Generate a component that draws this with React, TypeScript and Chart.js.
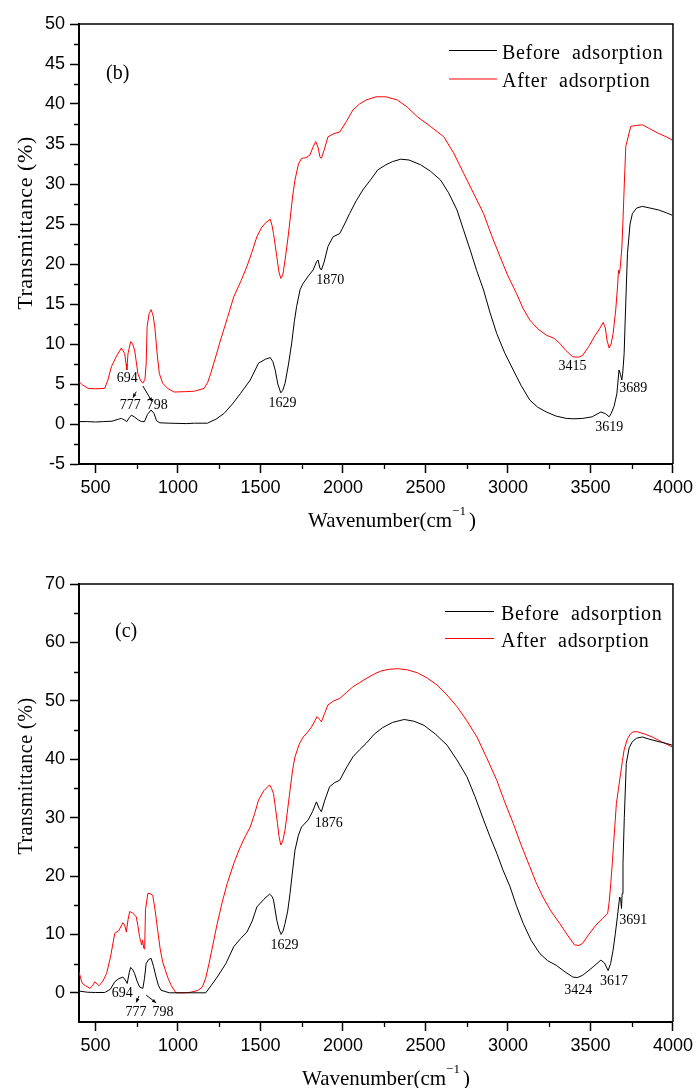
import React, { useEffect, useRef } from 'react';
import { Chart, registerables } from 'chart.js';
Chart.register(...registerables);

// ---------- shared axis data ----------
const xTicks = [500, 1000, 1500, 2000, 2500, 3000, 3500, 4000];
const xMinor = [750, 1250, 1750, 2250, 2750, 3250, 3750];
const seriesNames = ['Before adsorption', 'After adsorption'];

// ---------- panel (b) ----------
const bYTicks = [-5, 0, 5, 10, 15, 20, 25, 30, 35, 40, 45, 50];
const bYMinor = [-2.5, 2.5, 7.5, 12.5, 17.5, 22.5, 27.5, 32.5, 37.5, 42.5, 47.5];

const bBeforeX = [400, 450, 500, 550, 600, 640, 657, 675, 690, 705, 717, 735, 760, 780, 797, 815, 837, 855, 870, 890, 950, 1050, 1100, 1178, 1230, 1278, 1330, 1378, 1438, 1488, 1530, 1559, 1575, 1589, 1605, 1623, 1635, 1649, 1670, 1689, 1705, 1719, 1740, 1759, 1790, 1819, 1840, 1849, 1860, 1869, 1885, 1909, 1940, 1980, 2010, 2040, 2080, 2120, 2170, 2210, 2260, 2300, 2350, 2400, 2471, 2530, 2591, 2640, 2691, 2730, 2771, 2810, 2852, 2890, 2932, 2980, 3032, 3080, 3132, 3180, 3233, 3290, 3353, 3400, 3453, 3510, 3563, 3590, 3613, 3625, 3643, 3660, 3673, 3682, 3690, 3696, 3704, 3712, 3724, 3740, 3754, 3780, 3814, 3860, 3914, 3960, 3995];
const bBeforeY = [0.3, 0.3, 0.25, 0.3, 0.35, 0.6, 0.7, 0.5, 0.3, 0.8, 1.1, 0.9, 0.5, 0.3, 0.3, 1.2, 1.75, 1.3, 0.4, 0.15, 0.1, 0.05, 0.1, 0.1, 0.6, 1.3, 2.5, 3.8, 5.5, 7.6, 8.1, 8.3, 7.8, 6.75, 5.0, 3.9, 4.2, 5.1, 7.5, 10.1, 12.8, 14.7, 16.8, 17.6, 18.5, 19.25, 20.3, 20.5, 19.5, 19.25, 20.2, 22.2, 23.4, 23.8, 25.0, 26.3, 27.9, 29.25, 30.6, 31.75, 32.4, 32.8, 33.1, 33.0, 32.4, 31.6, 30.5, 28.9, 26.75, 24.3, 21.75, 19.2, 16.75, 14.0, 11.3, 8.9, 6.75, 4.8, 3.0, 2.1, 1.5, 1.0, 0.7, 0.65, 0.7, 0.9, 1.5, 1.3, 0.9, 1.3, 2.2, 3.8, 6.75, 6.2, 5.5, 6.5, 8.8, 14, 21.3, 25, 26.3, 27, 27.2, 27.0, 26.75, 26.4, 26.1];

const bAfterX = [400, 420, 456, 500, 556, 575, 597, 630, 657, 677, 685, 690, 697, 713, 725, 737, 747, 757, 772, 787, 800, 807, 813, 825, 837, 850, 860, 875, 887, 907, 940, 977, 1050, 1100, 1158, 1180, 1198, 1230, 1258, 1300, 1338, 1380, 1418, 1450, 1478, 1505, 1529, 1559, 1570, 1579, 1599, 1612, 1623, 1635, 1649, 1665, 1679, 1695, 1709, 1730, 1749, 1775, 1799, 1820, 1835, 1850, 1860, 1869, 1885, 1909, 1945, 1980, 2020, 2060, 2100, 2140, 2200, 2260, 2330, 2390, 2451, 2530, 2611, 2670, 2732, 2790, 2852, 2900, 2952, 3000, 3052, 3090, 3132, 3180, 3233, 3280, 3313, 3350, 3393, 3430, 3453, 3490, 3523, 3555, 3577, 3590, 3600, 3613, 3625, 3637, 3653, 3665, 3670, 3675, 3680, 3690, 3697, 3705, 3714, 3744, 3770, 3814, 3860, 3914, 3960, 3995];
const bAfterY = [5.3, 4.9, 4.45, 4.4, 4.45, 5.5, 7.2, 8.6, 9.5, 8.8, 7.5, 6.75, 8.8, 10.3, 10.0, 9.25, 7.8, 6.3, 5.5, 5.1, 5.6, 7.5, 12.2, 13.8, 14.3, 13.5, 12.0, 8.5, 6.3, 5.1, 4.4, 4.0, 4.05, 4.1, 4.45, 5.2, 6.3, 8.5, 10.5, 13.3, 15.9, 17.8, 19.7, 21.6, 23.4, 24.5, 25.1, 25.6, 24.8, 23.8, 20.9, 19.0, 18.2, 18.6, 20.5, 23.0, 25.5, 28.5, 30.5, 32.5, 33.2, 33.3, 33.6, 34.7, 35.3, 34.5, 33.4, 33.2, 34.2, 35.9, 36.3, 36.5, 37.8, 39.25, 40.0, 40.5, 40.9, 40.9, 40.5, 39.6, 38.4, 37.2, 35.9, 33.9, 31.3, 28.9, 26.3, 23.6, 20.9, 18.5, 16.3, 14.5, 13.0, 11.9, 11.1, 10.7, 10.1, 9.2, 8.4, 8.35, 8.6, 9.7, 10.9, 11.9, 12.7, 12.0, 10.5, 9.5, 10.0, 11.3, 14.25, 17.5, 19.25, 18.8, 19.5, 22, 25.5, 30, 34.7, 37.2, 37.3, 37.4, 36.9, 36.3, 35.9, 35.5];

const bLabelText = ['694', '777', '798', '1629', '1870', '3415', '3689', '3619'];
const bLabelX = [692, 711, 875, 1634, 1923, 3391, 3759, 3613];
const bLabelY = [5.71, 2.34, 2.34, 2.59, 17.9, 7.17, 4.41, -0.38];
const bArrowX1 = [747, 787];
const bArrowY1 = [4.04, 4.75];
const bArrowX2 = [727, 843];
const bArrowY2 = [3.29, 2.8];

// ---------- panel (c) ----------
const cYTicks = [0, 10, 20, 30, 40, 50, 60, 70];
const cYMinor = [5, 15, 25, 35, 45, 55, 65];

const cBeforeX = [400, 450, 500, 556, 590, 617, 640, 666, 680, 692, 705, 713, 725, 737, 752, 767, 787, 797, 807, 822, 837, 852, 867, 882, 897, 947, 1050, 1168, 1200, 1238, 1290, 1338, 1380, 1418, 1450, 1478, 1520, 1555, 1570, 1579, 1599, 1612, 1625, 1637, 1649, 1665, 1679, 1695, 1709, 1730, 1749, 1789, 1815, 1839, 1855, 1869, 1890, 1919, 1950, 1980, 2020, 2060, 2100, 2140, 2190, 2240, 2300, 2371, 2430, 2491, 2560, 2631, 2690, 2751, 2800, 2852, 2890, 2932, 2970, 3012, 3050, 3092, 3140, 3192, 3240, 3293, 3340, 3393, 3420, 3453, 3510, 3563, 3585, 3607, 3622, 3637, 3650, 3663, 3677, 3683, 3688, 3692, 3697, 3705, 3717, 3735, 3754, 3780, 3814, 3860, 3914, 3960, 3995];
const cBeforeY = [0.3, 0.1, 0.05, 0.05, 0.6, 1.9, 2.4, 2.7, 2.2, 1.6, 3.5, 4.35, 4.0, 3.3, 2.0, 1.0, 0.75, 2.5, 5.0, 5.7, 5.9, 4.5, 2.7, 1.2, 0.45, 0.0, 0.0, 0.0, 1.2, 2.7, 5.0, 7.9, 9.3, 10.4, 12.3, 14.7, 16.0, 16.9, 16.5, 15.9, 12.4, 10.9, 10.0, 10.6, 11.9, 14.0, 17.0, 21.0, 24.4, 27.0, 28.4, 29.6, 31.0, 32.7, 31.6, 31.0, 33.0, 35.3, 36.0, 36.4, 38.5, 40.4, 41.6, 42.7, 44.3, 45.4, 46.3, 46.8, 46.5, 45.8, 44.3, 42.4, 39.9, 37.0, 33.6, 29.6, 26.8, 23.9, 21.0, 18.2, 15.0, 11.9, 9.0, 6.75, 5.5, 4.7, 3.7, 2.7, 2.6, 3.0, 4.3, 5.6, 5.1, 3.8, 5.0, 7.3, 10.0, 13.0, 16.4, 16.0, 14.45, 17.0, 22.2, 30, 39.3, 42.0, 43.0, 43.6, 43.8, 43.4, 43.0, 42.7, 42.4];

const cAfterX = [400, 410, 420, 440, 466, 482, 496, 510, 521, 545, 567, 590, 617, 640, 666, 677, 687, 697, 707, 725, 747, 757, 767, 780, 785, 793, 798, 803, 817, 830, 847, 862, 877, 892, 907, 922, 937, 960, 987, 1040, 1077, 1120, 1148, 1168, 1188, 1210, 1238, 1268, 1298, 1340, 1378, 1408, 1438, 1465, 1488, 1520, 1555, 1567, 1579, 1590, 1603, 1612, 1623, 1635, 1649, 1665, 1679, 1695, 1709, 1735, 1759, 1785, 1809, 1830, 1843, 1858, 1869, 1888, 1909, 1945, 1980, 2020, 2060, 2100, 2140, 2190, 2230, 2280, 2330, 2390, 2451, 2510, 2571, 2630, 2691, 2750, 2812, 2870, 2932, 2980, 3032, 3080, 3132, 3170, 3212, 3260, 3313, 3360, 3403, 3430, 3453, 3490, 3533, 3570, 3604, 3613, 3623, 3633, 3643, 3650, 3657, 3670, 3683, 3694, 3704, 3724, 3744, 3760, 3784, 3830, 3874, 3930, 3995];
const cAfterY = [3.6, 2.5, 1.6, 1.2, 0.75, 1.2, 1.9, 1.5, 1.2, 2.0, 3.3, 6.0, 10.2, 10.6, 12.0, 11.6, 10.4, 12.5, 13.9, 13.7, 13.0, 11.5, 9.6, 8.2, 9.0, 7.6, 7.5, 14.2, 17.0, 17.0, 16.7, 14.0, 10.7, 7.5, 5.3, 4.0, 2.7, 1.2, 0.0, 0.0, 0.1, 0.4, 1.0, 2.5, 5.0, 8.0, 11.9, 15.5, 18.7, 22.3, 25.0, 26.8, 28.4, 30.7, 33.0, 34.6, 35.6, 35.0, 34.1, 31.8, 29.0, 26.8, 25.3, 26.0, 27.9, 31.5, 34.7, 38.2, 40.4, 42.6, 43.8, 44.6, 45.5, 46.6, 47.3, 46.8, 46.4, 47.8, 49.3, 50.0, 50.4, 51.4, 52.4, 53.1, 53.8, 54.6, 55.1, 55.4, 55.5, 55.3, 54.8, 53.9, 52.7, 51.0, 49.0, 46.6, 43.8, 40.3, 36.4, 32.7, 29.0, 25.3, 21.6, 18.9, 16.4, 14.0, 11.9, 9.9, 8.2, 8.1, 8.5, 10.0, 11.6, 12.6, 13.6, 15.5, 18.7, 22.5, 26.7, 29.5, 32.4, 35.0, 37.6, 39.8, 41.6, 43.5, 44.4, 44.7, 44.7, 44.3, 43.8, 43.0, 42.1];

const cLabelText = ['694', '777', '798', '1629', '1876', '3424', '3617', '3691'];
const cLabelX = [662, 745, 909, 1645, 1914, 3426, 3642, 3759];
const cLabelY = [-0.1, -3.3, -3.3, 8.17, 29.1, 0.46, 1.88, 12.45];
const cArrowX1 = [763, 807];
const cArrowY1 = [-0.57, -0.39];
const cArrowX2 = [747, 867];
const cArrowY2 = [-1.64, -1.71];

const SANS = '"Liberation Sans", Arial, sans-serif';
const SERIF = '"Liberation Serif", "Times New Roman", serif';

const zip = (xs: number[], ys: number[]) => xs.map((x, i) => ({ x, y: ys[i] }));

const decorPlugin = {
  id: 'decor',
  afterDraw(chart: any, _args: any, o: any) {
    const { ctx, chartArea: a, scales } = chart;
    const xs = scales.x, ys = scales.y;
    ctx.save();
    // frame
    ctx.strokeStyle = '#000';
    ctx.lineWidth = 1.5;
    ctx.beginPath();
    ctx.moveTo(a.left, a.top);
    ctx.lineTo(a.right, a.top);
    ctx.lineTo(a.right, a.bottom);
    ctx.stroke();
    // minor ticks
    ctx.lineWidth = 1.3;
    ctx.beginPath();
    o.xMinor.forEach((v: number) => {
      const p = Math.round(xs.getPixelForValue(v)) + 0.5;
      ctx.moveTo(p, a.bottom);
      ctx.lineTo(p, a.bottom + 5);
    });
    o.yMinor.forEach((v: number) => {
      const p = Math.round(ys.getPixelForValue(v)) + 0.5;
      ctx.moveTo(a.left - 5, p);
      ctx.lineTo(a.left, p);
    });
    ctx.stroke();

    // annotations
    ctx.fillStyle = '#000';
    ctx.font = '14px ' + SERIF;
    ctx.textAlign = 'center';
    ctx.textBaseline = 'middle';
    o.labelText.forEach((t: string, i: number) => {
      ctx.fillText(t, xs.getPixelForValue(o.labelX[i]), ys.getPixelForValue(o.labelY[i]));
    });
    ctx.lineWidth = 1;
    o.arrowX1.forEach((_: number, i: number) => {
      const x1 = xs.getPixelForValue(o.arrowX1[i]);
      const y1 = ys.getPixelForValue(o.arrowY1[i]);
      const x2 = xs.getPixelForValue(o.arrowX2[i]);
      const y2 = ys.getPixelForValue(o.arrowY2[i]);
      ctx.beginPath();
      ctx.moveTo(x1, y1);
      ctx.lineTo(x2, y2);
      ctx.stroke();
      const ang = Math.atan2(y2 - y1, x2 - x1);
      const hl = 4, hw = 1.8;
      ctx.beginPath();
      ctx.moveTo(x2, y2);
      ctx.lineTo(x2 - hl * Math.cos(ang) + hw * Math.sin(ang), y2 - hl * Math.sin(ang) - hw * Math.cos(ang));
      ctx.lineTo(x2 - hl * Math.cos(ang) - hw * Math.sin(ang), y2 - hl * Math.sin(ang) + hw * Math.cos(ang));
      ctx.closePath();
      ctx.fill();
    });

    // panel label
    ctx.textAlign = 'left';
    ctx.textBaseline = 'alphabetic';
    ctx.font = '20px ' + SERIF;
    ctx.fillText(o.panel, o.panelX, o.panelY);

    // legend
    const ds = chart.data.datasets;
    ctx.font = '20px ' + SERIF;
    (ctx as any).letterSpacing = '0.7px';
    ds.forEach((d: any, i: number) => {
      const ly = o.legendY[i];
      ctx.strokeStyle = d.borderColor;
      ctx.lineWidth = 1;
      ctx.beginPath();
      ctx.moveTo(o.legendX1, ly + 0.5);
      ctx.lineTo(o.legendX2, ly + 0.5);
      ctx.stroke();
      ctx.fillStyle = '#000';
      ctx.fillText(d.label.replace(' ', '  '), o.legendTextX, o.legendTextY[i]);
    });

    // y title
    ctx.save();
    ctx.font = o.yTitleFont;
    (ctx as any).letterSpacing = o.yTitleSpacing;
    ctx.translate(o.yTitleX, o.yTitleY);
    ctx.rotate(-Math.PI / 2);
    ctx.textAlign = 'center';
    ctx.fillText('Transmittance (%)', 0, 0);
    ctx.restore();

    // x title
    (ctx as any).letterSpacing = '0px';
    ctx.textAlign = 'left';
    ctx.font = '21px ' + SERIF;
    const main = 'Wavenumber(cm';
    ctx.fillText(main, o.xTitleX, o.xTitleY);
    const w = ctx.measureText(main).width;
    ctx.font = '13px ' + SERIF;
    ctx.fillText('\u22121', o.xTitleX + w + 0, o.xTitleY - 12);
    const w2 = ctx.measureText('\u22121').width;
    ctx.font = '21px ' + SERIF;
    ctx.fillText(')', o.xTitleX + w + w2 + 3, o.xTitleY);
    ctx.restore();
  },
};

function makeConfig(p: any) {
  return {
    type: 'line',
    data: {
      datasets: [
        { label: seriesNames[0], data: zip(p.beforeX, p.beforeY), borderColor: '#000000', borderWidth: 1, pointRadius: 0, tension: 0, fill: false },
        { label: seriesNames[1], data: zip(p.afterX, p.afterY), borderColor: '#ff0000', borderWidth: 1, pointRadius: 0, tension: 0, fill: false },
      ],
    },
    options: {
      animation: false,
      responsive: false,
      devicePixelRatio: 1,
      parsing: true,
      layout: { padding: { left: 0, top: p.padTop, right: 19, bottom: 0 } },
      plugins: {
        legend: { display: false },
        tooltip: { enabled: false },
        decor: p.decor,
      },
      scales: {
        x: {
          type: 'linear',
          min: 400,
          max: 4000,
          afterBuildTicks: (s: any) => { s.ticks = xTicks.map((v) => ({ value: v })); },
          afterFit: (s: any) => { s.height = p.xHeight; },
          border: { display: true, color: '#000', width: 2 },
          grid: { display: true, drawOnChartArea: false, drawTicks: true, tickLength: 9, tickWidth: 1.5, tickColor: '#000', color: '#000' },
          ticks: { color: '#000', font: { family: SANS, size: 18 }, padding: 4, maxRotation: 0, autoSkip: false, callback: (v: any) => String(v) },
        },
        y: {
          type: 'linear',
          min: p.yMin,
          max: p.yMax,
          afterBuildTicks: (s: any) => { s.ticks = p.yTicks.map((v: number) => ({ value: v })); },
          afterFit: (s: any) => { s.width = 79; },
          border: { display: true, color: '#000', width: 2 },
          grid: { display: true, drawOnChartArea: false, drawTicks: true, tickLength: 9, tickWidth: 1.5, tickColor: '#000', color: '#000' },
          ticks: { color: '#000', font: { family: SANS, size: 18 }, padding: 5, autoSkip: false, callback: (v: any) => String(v) },
        },
      },
    },
    plugins: [decorPlugin],
  };
}

const panelB = {
  beforeX: bBeforeX, beforeY: bBeforeY, afterX: bAfterX, afterY: bAfterY,
  yMin: -5, yMax: 50, yTicks: bYTicks, padTop: 24, xHeight: 80,
  decor: {
    xMinor, yMinor: bYMinor,
    labelText: bLabelText, labelX: bLabelX, labelY: bLabelY,
    arrowX1: bArrowX1, arrowY1: bArrowY1, arrowX2: bArrowX2, arrowY2: bArrowY2,
    panel: '(b)', panelX: 106, panelY: 79,
    legendX1: 449, legendX2: 497, legendY: [50, 78.5], legendTextX: 502, legendTextY: [59, 86.5],
    yTitleFont: '22px ' + SERIF, yTitleSpacing: '0.6px', yTitleX: 32, yTitleY: 223,
    xTitleX: 308, xTitleY: 527,
  },
};

const panelC = {
  beforeX: cBeforeX, beforeY: cBeforeY, afterX: cAfterX, afterY: cAfterY,
  yMin: -5, yMax: 70, yTicks: cYTicks, padTop: 40, xHeight: 66,
  decor: {
    xMinor, yMinor: cYMinor,
    labelText: cLabelText, labelX: cLabelX, labelY: cLabelY,
    arrowX1: cArrowX1, arrowY1: cArrowY1, arrowX2: cArrowX2, arrowY2: cArrowY2,
    panel: '(c)', panelX: 115, panelY: 637 - 544,
    legendX1: 445, legendX2: 494, legendY: [611 - 544, 638 - 544], legendTextX: 501, legendTextY: [619.5 - 544, 646.5 - 544],
    yTitleFont: '20px ' + SERIF, yTitleSpacing: '0.5px', yTitleX: 32, yTitleY: 776 - 544,
    xTitleX: 302, xTitleY: 1085 - 544,
  },
};

function Panel({ cfg, top }: { cfg: any; top: number }) {
  const ref = useRef<HTMLCanvasElement>(null);
  useEffect(() => {
    const chart = new Chart(ref.current as HTMLCanvasElement, makeConfig(cfg) as any);
    return () => chart.destroy();
  }, []);
  return (
    <canvas
      ref={ref}
      width={697}
      height={544}
      style={{ position: 'absolute', left: 0, top, width: 697, height: 544, display: 'block' }}
    />
  );
}

export default function App() {
  return (
    <div style={{ position: 'absolute', left: 0, top: 0, width: 697, height: 1088, background: '#fff', overflow: 'hidden' }}>
      <Panel cfg={panelB} top={0} />
      <Panel cfg={panelC} top={544} />
    </div>
  );
}
